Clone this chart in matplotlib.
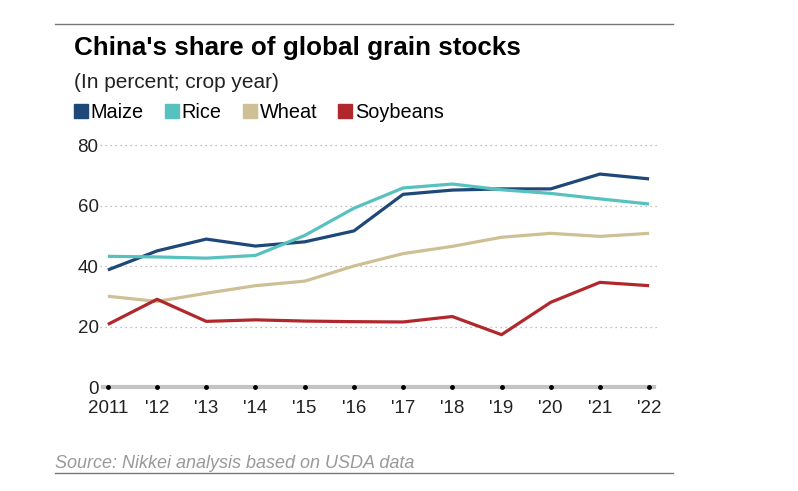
import matplotlib.pyplot as plt
from matplotlib.lines import Line2D

plt.rcParams['font.family'] = ['Liberation Sans', 'DejaVu Sans']

years = [2011, 2012, 2013, 2014, 2015, 2016, 2017, 2018, 2019, 2020, 2021, 2022]
year_labels = ["2011", "'12", "'13", "'14", "'15", "'16", "'17", "'18", "'19", "'20", "'21", "'22"]
maize = [38.7, 45.0, 48.9, 46.6, 48.0, 51.6, 63.7, 65.1, 65.5, 65.5, 70.4, 68.8]
rice = [43.2, 43.0, 42.6, 43.5, 50.1, 59.1, 65.8, 67.1, 65.2, 64.0, 62.2, 60.5]
wheat = [30.0, 28.3, 31.0, 33.5, 35.0, 40.0, 44.1, 46.5, 49.5, 50.8, 49.8, 50.8]
soybeans = [20.7, 29.0, 21.7, 22.2, 21.8, 21.6, 21.5, 23.3, 17.3, 28.0, 34.6, 33.5]

series = [("Maize", maize, "#1d4877"), ("Rice", rice, "#57c1bf"),
          ("Wheat", wheat, "#cdc095"), ("Soybeans", soybeans, "#b0282c")]

fig = plt.figure(figsize=(7.98, 4.91), dpi=100)
ax = fig.add_axes([0.1253, 0.2118, 0.698, 0.499])

for name, vals, col in series:
    ax.plot(years, vals, color=col, lw=2.3, solid_capstyle='butt', zorder=3)

ax.set_xlim(2010.84, 2022.16)
ax.set_ylim(0, 81)
ax.set_yticks([0, 20, 40, 60, 80])
ax.set_xticks(years)
ax.set_xticklabels(year_labels)
ax.tick_params(length=0, labelsize=13.5, colors='#222222')
ax.tick_params(axis='y', pad=1)
ax.tick_params(axis='x', pad=9)
for s in ax.spines.values():
    s.set_visible(False)
ax.yaxis.grid(True, ls=(0, (1, 3)), color='#aaaaaa', lw=0.9)
ax.set_axisbelow(True)

# baseline with dot ticks
ax.axhline(0, xmin=0.005, xmax=0.995, color='#c4c4c4', lw=3, clip_on=False, zorder=2)
ax.plot(years, [0] * len(years), 'o', color='black', ms=2.5, clip_on=False, zorder=4)

# header / footer
fig.add_artist(Line2D([55 / 798, 673 / 798], [1 - 24 / 491] * 2, color='#777777', lw=1))
fig.add_artist(Line2D([55 / 798, 673 / 798], [1 - 473 / 491] * 2, color='#777777', lw=1))
fig.text(74 / 798, 1 - 48 / 491, "China's share of global grain stocks",
         fontsize=18.7, fontweight='bold', va='center', ha='left')
fig.text(74 / 798, 1 - 83 / 491, "(In percent; crop year)",
         fontsize=15, va='center', ha='left', color='#222222')
fig.text(55 / 798, 1 - 463 / 491, "Source: Nikkei analysis based on USDA data",
         fontsize=13, style='italic', va='center', ha='left', color='#999999')

handles = [Line2D([], [], marker='s', ls='none', color=c, ms=10.5) for _, _, c in series]
fig.legend(handles, [n for n, _, _ in series], loc='center left',
           bbox_to_anchor=(73 / 798, 1 - 112 / 491), ncol=4, frameon=False,
           fontsize=14.3, handlelength=0.8, handletextpad=0.1, columnspacing=1.0,
           borderpad=0, borderaxespad=0)

fig.savefig("out.png", dpi=100)
